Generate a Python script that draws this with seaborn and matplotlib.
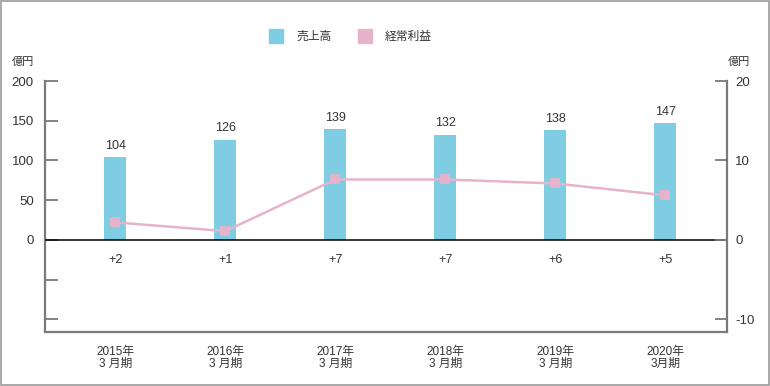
import matplotlib
matplotlib.use("Agg")
import matplotlib.pyplot as plt
from matplotlib.lines import Line2D
from matplotlib.patches import Rectangle
import seaborn as sns
import pandas as pd

sns.set_style("white")
plt.rcParams['font.family'] = ['Liberation Sans', 'Noto Sans CJK JP', 'DejaVu Sans']

categories = ["2015年\n3 月期", "2016年\n3 月期", "2017年\n3 月期",
              "2018年\n3 月期", "2019年\n3 月期", "2020年\n3月期"]
sales = [104, 126, 139, 132, 138, 147]
profit = [2.2, 1.1, 7.6, 7.6, 7.1, 5.6]
profit_labels = ["+2", "+1", "+7", "+7", "+6", "+5"]
left_ticks = [200, 150, 100, 50, 0, -50, -100]
left_ticklabels = ["200", "150", "100", "50", "0", "", ""]
right_ticks = [20, 10, 0, -10]

bar_color = "#7ecde3"
line_color = "#e6b3cc"
spine_color = "#7a7a7a"
text_color = "#333333"

df = pd.DataFrame({"cat": categories, "sales": sales, "profit": profit})

fig = plt.figure(figsize=(7.7, 3.86), dpi=100)
ax = fig.add_axes([45/770, 1-332/386, (727-45)/770, (332-81)/386])

sns.barplot(data=df, x="cat", y="sales", color=bar_color, width=0.2,
            saturation=1, ax=ax, zorder=2, linewidth=0)
for c in ax.containers:
    ax.bar_label(c, labels=[str(v) for v in sales], padding=4,
                 fontsize=9, color=text_color)

ax.axhline(0, color="black", lw=1.1, zorder=3)
for i, lab in enumerate(profit_labels):
    ax.text(i, -25, lab, ha="center", va="center", fontsize=9, color=text_color)

ax2 = ax.twinx()
sns.pointplot(data=df, x="cat", y="profit", color=line_color, markers="s",
              linestyles="-", ax=ax2, markersize=6, linewidth=1.8, zorder=4)

ax.set_ylim(-116, 200)
ax2.set_ylim(-11.6, 20)
ax.set_xlim(-0.64, 5.56)
ax2.set_xlim(-0.64, 5.56)

ax.set_yticks(left_ticks)
ax.set_yticklabels(left_ticklabels)
ax2.set_yticks(right_ticks)
ax2.set_yticklabels([str(t) for t in right_ticks])
ax.set_xticks(range(len(categories)))
ax.set_xticklabels(categories, linespacing=1.0)
ax.set_xlabel("")
ax.set_ylabel("")
ax2.set_ylabel("")

for a in (ax, ax2):
    a.spines["top"].set_visible(False)
    for s in ("left", "right", "bottom"):
        a.spines[s].set_color(spine_color)
        a.spines[s].set_linewidth(1.6)
ax.spines["right"].set_visible(False)
ax2.spines["left"].set_visible(False)
ax2.spines["bottom"].set_visible(False)

ax.tick_params(axis="y", direction="in", length=9, width=1.3, color=spine_color,
               labelsize=9.5, labelcolor=text_color, pad=8)
ax2.tick_params(axis="y", direction="in", length=9, width=1.3, color=spine_color,
                labelsize=9.5, labelcolor=text_color, pad=6)
ax.tick_params(axis="x", length=0, labelsize=8.5, labelcolor=text_color, pad=10)

fig.text(12/770, 1-62/386, "億円", fontsize=8, color=text_color, va="center")
fig.text(728/770, 1-62/386, "億円", fontsize=8, color=text_color, va="center")

handles = [Line2D([], [], marker="s", linestyle="none", markersize=10,
                  markerfacecolor=bar_color, markeredgecolor=bar_color),
           Line2D([], [], marker="s", linestyle="none", markersize=10,
                  markerfacecolor=line_color, markeredgecolor=line_color)]
fig.legend(handles, ["売上高", "経常利益"], loc="center", ncol=2, frameon=False,
           bbox_to_anchor=(348/770, 1-37/386), fontsize=8.5, handletextpad=0.7,
           columnspacing=1.8, labelcolor=text_color)

fig.patches.append(Rectangle((0.0015, 0.002), 0.997, 0.995, transform=fig.transFigure,
                             fill=False, edgecolor="#9a9a9a", lw=1.2))

fig.savefig("out.png", dpi=100)
